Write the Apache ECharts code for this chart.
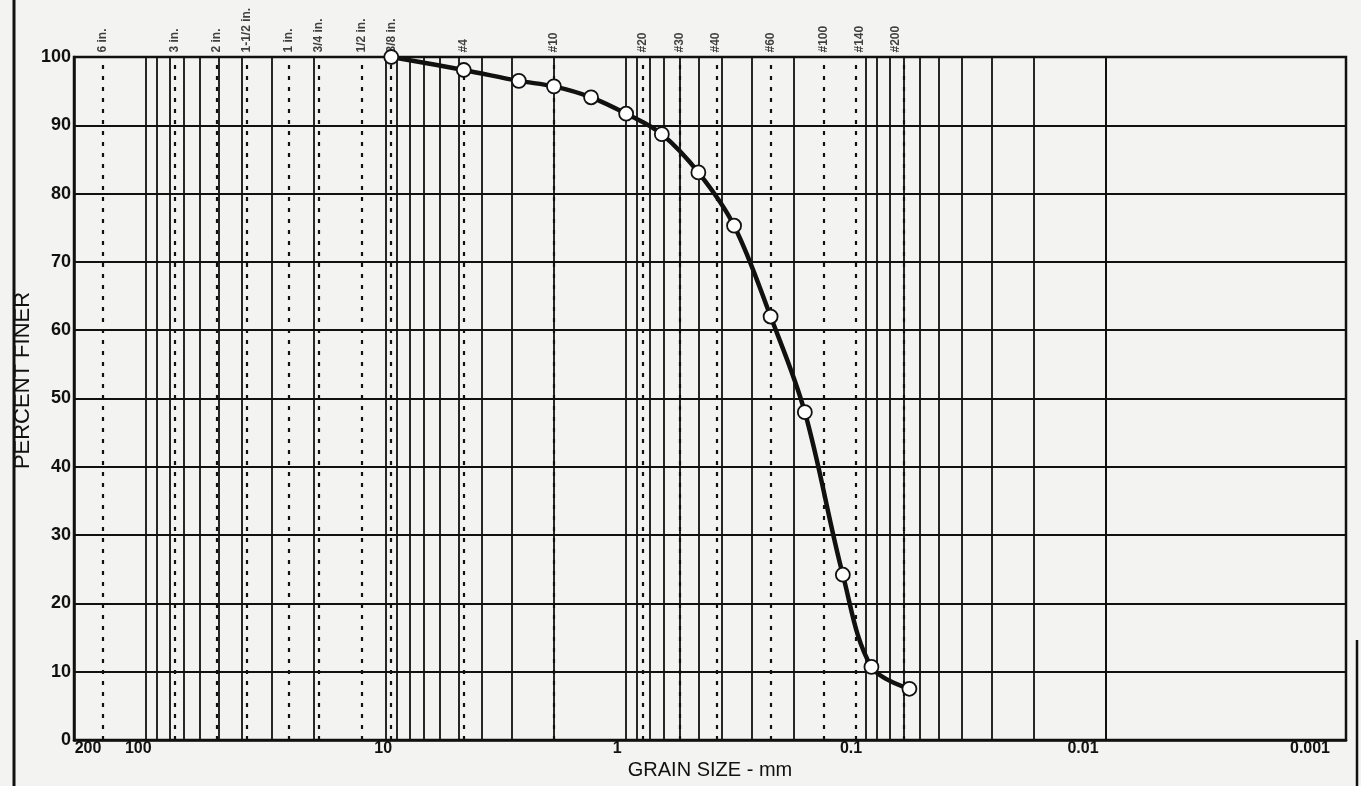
<!DOCTYPE html>
<html>
<head>
<meta charset="utf-8">
<script src="https://cdn.jsdelivr.net/npm/echarts@6/dist/echarts.min.js"></script>
<style>
html,body{margin:0;padding:0;background:#f3f3f1;}
#c{width:1361px;height:786px;}
</style>
</head>
<body>
<div id="c"></div>
<script>
// Measured sample (grain size in mm, percent finer)
const grainSize    = [9.525, 4.75, 2.8, 2.0, 1.4, 1.0, 0.71, 0.5, 0.355, 0.25, 0.18, 0.125, 0.095, 0.066];
const percentFiner = [100, 98.1, 96.5, 95.7, 94.1, 91.7, 88.7, 83.1, 75.3, 62.0, 48.0, 24.2, 10.7, 7.5];

// Sieve openings (mm) drawn as dotted lines, with their labels
const sieveSizes  = [152.4, 76.2, 50.8, 38.1, 25.4, 19.05, 12.7, 9.525, 4.75, 2.0, 0.85, 0.6, 0.425, 0.25, 0.15, 0.106, 0.075];
const sieveLabels = ['6 in.', '3 in.', '2 in.', '1-1/2 in.', '1 in.', '3/4 in.', '1/2 in.', '3/8 in.', '#4', '#10', '#20', '#30', '#40', '#60', '#100', '#140', '#200'];

// Axis tick labels (and their small horizontal offset as printed)
const xTickLabels  = ['200', '100', '10', '1', '0.1', '0.01', '0.001'];
const xLabelShift  = [14, -8, -3, -9, -15, -23, -36];
const yTickStep = 10;

// Log-cycle grid lines (1..9 x 10^n) inside 0.001..200
const decadeStarts = [0.001, 0.01, 0.1, 1, 10];
const cycleMultipliers = [1, 2, 3, 4, 5, 6, 7, 8, 9];
const gridValues = [];
decadeStarts.forEach(d => cycleMultipliers.forEach(m => {
  const v = +(d * m).toPrecision(6);
  if (v > 0.001) gridValues.push(v);
}));
gridValues.push(100);

const ink = '#111';
const FONT = '"Liberation Sans", Arial, sans-serif';

const chart = echarts.init(document.getElementById('c'), null, {renderer: 'canvas'});

const labFont = {fontSize: 16, fontWeight: 'bold', fontFamily: FONT, color: ink};
const rich = {};
xTickLabels.forEach((t, i) => {
  const s = xLabelShift[i];
  rich['t' + i] = Object.assign({padding: s >= 0 ? [0, 0, 0, 2 * s] : [0, -2 * s, 0, 0]}, labFont);
});

function xLabel(v) {
  for (let i = 0; i < xTickLabels.length; i++) {
    const t = xTickLabels[i];
    if (Math.abs(Math.log10(v) - Math.log10(parseFloat(t))) < 1e-6) {
      return '{t' + i + '|' + t + '}';
    }
  }
  return '';
}

chart.setOption({
  animation: false,
  backgroundColor: '#f3f3f1',
  grid: {left: 74, right: 15, top: 57, bottom: 46, show: true, borderColor: ink, borderWidth: 2.5, backgroundColor: 'transparent'},
  xAxis: {
    type: 'log', logBase: 10, inverse: true, min: 0.001, max: 200,
    name: 'GRAIN SIZE - mm', nameLocation: 'middle', nameGap: 20, nameMoveOverlap: false,
    nameTextStyle: {fontSize: 20, fontFamily: FONT, color: ink},
    axisLine: {show: true, lineStyle: {color: ink, width: 2.5}},
    axisTick: {show: false},
    splitLine: {show: false},
    minorTick: {show: false}, minorSplitLine: {show: false},
    axisLabel: {
      show: true, margin: 1, formatter: xLabel, showMinLabel: true, showMaxLabel: true, hideOverlap: false,
      rich: rich
    }
  },
  yAxis: {
    type: 'value', min: 0, max: 100, interval: yTickStep,
    name: 'PERCENT FINER', nameLocation: 'middle', nameGap: 40, nameRotate: 90, nameMoveOverlap: false,
    nameTextStyle: {fontSize: 22, fontFamily: FONT, color: ink, padding: [0, 0, 0, 36]},
    axisLine: {show: true, lineStyle: {color: ink, width: 2.5}},
    axisTick: {show: false},
    splitLine: {show: true, lineStyle: {color: ink, width: 1.8}},
    axisLabel: {fontSize: 18, fontWeight: 'bold', fontFamily: FONT, color: ink, margin: 3}
  },
  graphic: [
    {type: 'line', shape: {x1: 14, y1: 0, x2: 14, y2: 786}, style: {stroke: ink, lineWidth: 3}, silent: true},
    {type: 'line', shape: {x1: 1357, y1: 640, x2: 1357, y2: 786}, style: {stroke: ink, lineWidth: 2.5}, silent: true}
  ],
  series: [
    {
      type: 'line', data: [], z: 1, silent: true,
      markLine: {
        silent: true, symbol: ['none', 'none'], animation: false,
        label: {show: false},
        lineStyle: {color: ink, width: 1.8, type: 'solid'},
        emphasis: {disabled: true},
        data: gridValues.map(v => ({xAxis: v}))
      }
    },
    {
      type: 'scatter', z: 2, silent: true, clip: false,
      data: sieveSizes.map(s => [s, 100]),
      symbol: 'rect', symbolSize: 1, itemStyle: {color: 'rgba(0,0,0,0)'},
      label: {
        show: true, position: 'top', distance: 4, rotate: 90, align: 'left', verticalAlign: 'middle',
        fontSize: 12, fontWeight: 'bold', fontFamily: FONT, color: ink,
        formatter: p => sieveLabels[p.dataIndex]
      },
      labelLayout: {hideOverlap: false},
      markLine: {
        silent: true, symbol: ['none', 'none'], animation: false,
        label: {show: false},
        lineStyle: {color: ink, width: 2.2, type: [4, 7]},
        emphasis: {disabled: true},
        data: sieveSizes.map(v => ({xAxis: v}))
      }
    },
    {
      type: 'line', z: 5, clip: false, silent: true,
      data: grainSize.map((g, i) => [g, percentFiner[i]]),
      smooth: 0.35,
      lineStyle: {color: ink, width: 4.5},
      symbol: 'circle', symbolSize: 14, showAllSymbol: true,
      itemStyle: {color: '#ffffff', borderColor: ink, borderWidth: 1.8}
    }
  ]
});
</script>
</body>
</html>
